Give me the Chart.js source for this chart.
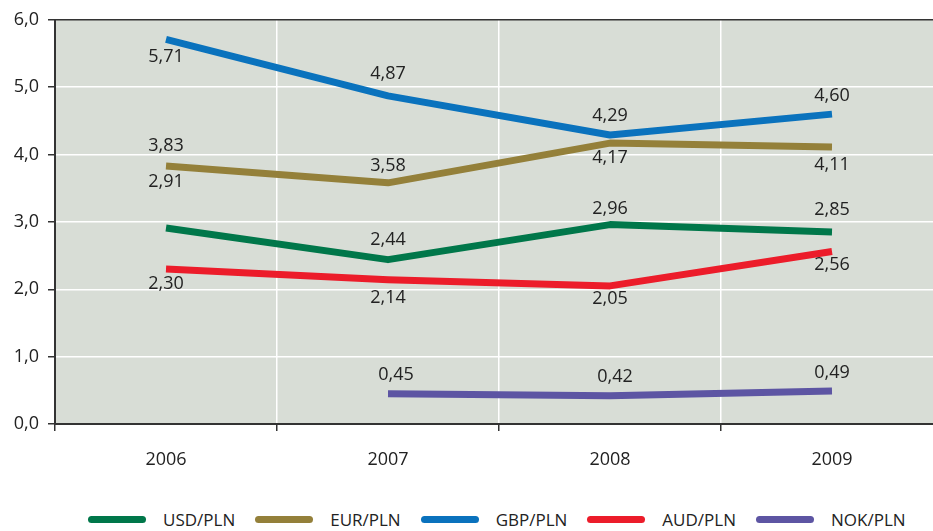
<!DOCTYPE html>
<html>
<head>
<meta charset="utf-8">
<script src="https://cdn.jsdelivr.net/npm/chart.js@4.4.1/dist/chart.umd.min.js"></script>
<style>
  body { margin: 0; background: #fff; font-family: "Open Sans", sans-serif; }
  #wrap { position: relative; width: 933px; height: 531px; overflow: hidden; }
  #chart { position: absolute; left: 0; top: 0; }
  #legend { position: absolute; left: 88px; top: 508px; display: flex; align-items: center; font-size: 17px; color: #222; white-space: nowrap; }
  #legend .sw { display: inline-block; width: 58px; height: 7px; border-radius: 4px; margin-right: 17px; }
  #legend .item { display: flex; align-items: center; margin-right: 20px; }
</style>
</head>
<body>
<div id="wrap">
  <canvas id="chart" width="943" height="480"></canvas>
  <div id="legend"></div>
</div>
<script>
// Dati
const years = ['2006', '2007', '2008', '2009'];
const usd = [2.91, 2.44, 2.96, 2.85];
const eur = [3.83, 3.58, 4.17, 4.11];
const gbp = [5.71, 4.87, 4.29, 4.60];
const aud = [2.30, 2.14, 2.05, 2.56];
const nok = [null, 0.45, 0.42, 0.49];
const yTicks = [0, 1, 2, 3, 4, 5, 6];

// posizione delle etichette rispetto al punto (px)
const labelDy = {
    'USD/PLN': [-46, -20, -16, -22],
    'EUR/PLN': [-20, -17, 15, 18],
    'GBP/PLN': [18, -22, -19, -18],
    'AUD/PLN': [15, 18, 13, 13],
    'NOK/PLN': [0, -19, -19, -18]
};
const labelDx = {
    'NOK/PLN': [0, 8, 5, 0]
};

const series = [
    { label: 'USD/PLN', data: usd, color: '#00774a' },
    { label: 'EUR/PLN', data: eur, color: '#94803a' },
    { label: 'GBP/PLN', data: gbp, color: '#0a72bd' },
    { label: 'AUD/PLN', data: aud, color: '#ec1c2a' },
    { label: 'NOK/PLN', data: nok, color: '#5d55a3' }
];

const fmt = v => v.toFixed(2).replace('.', ',');

const plotBg = {
    id: 'plotBg',
    beforeDraw(chart) {
        const a = chart.chartArea, c = chart.ctx;
        c.save();
        c.fillStyle = '#d8ddd6';
        c.fillRect(a.left, a.top, a.right - a.left, a.bottom - a.top);
        c.restore();
    }
};

const valueLabels = {
    id: 'valueLabels',
    afterDatasetsDraw(chart) {
        const c = chart.ctx;
        c.save();
        c.font = '18px "Open Sans"';
        c.fillStyle = '#222';
        c.textAlign = 'center';
        c.textBaseline = 'middle';
        chart.data.datasets.forEach((ds, i) => {
            const meta = chart.getDatasetMeta(i);
            ds.data.forEach((v, j) => {
                if (v === null) return;
                const p = meta.data[j];
                const dy = labelDy[ds.label][j];
                const dx = labelDx[ds.label] ? labelDx[ds.label][j] : 0;
                c.fillText(fmt(v), p.x + dx, p.y + dy);
            });
        });
        c.restore();
    }
};

const ctx = document.getElementById('chart').getContext('2d');
new Chart(ctx, {
    type: 'line',
    data: {
        labels: years,
        datasets: series.map(s => ({
            label: s.label,
            data: s.data,
            borderColor: s.color,
            backgroundColor: s.color,
            borderWidth: 7,
            borderCapStyle: 'butt',
            borderJoinStyle: 'round',
            pointRadius: 0,
            tension: 0,
            spanGaps: false
        }))
    },
    options: {
        responsive: false,
        animation: false,
        layout: { padding: { top: 18, right: 0, left: 0, bottom: 0 } },
        plugins: {
            legend: { display: false },
            tooltip: { enabled: false }
        },
        scales: {
            x: {
                offset: true,
                grid: {
                    offset: true,
                    color: '#ffffff',
                    lineWidth: 1.5,
                    tickColor: '#333',
                    tickLength: 7,
                    tickWidth: 1.5
                },
                border: { color: '#333', width: 2 },
                ticks: {
                    color: '#222',
                    font: { family: 'Open Sans', size: 18 },
                    padding: 18
                },
                afterFit(scale) { scale.height = 56; }
            },
            y: {
                min: 0,
                max: 6,
                afterBuildTicks(scale) { scale.ticks = yTicks.map(v => ({ value: v })); },
                grid: {
                    color: c => c.tick && c.tick.value === 6 ? '#333' : '#ffffff',
                    lineWidth: 1.5,
                    tickColor: '#333',
                    tickLength: 7,
                    tickWidth: 1.5
                },
                border: { color: '#333', width: 2 },
                ticks: {
                    color: '#222',
                    font: { family: 'Open Sans', size: 18 },
                    padding: 9,
                    callback: v => v.toFixed(1).replace('.', ',')
                },
                afterFit(scale) { scale.width = 55; }
            }
        }
    },
    plugins: [plotBg, valueLabels]
});

// Legenda
const legend = document.getElementById('legend');
series.forEach(s => {
    const item = document.createElement('span');
    item.className = 'item';
    const sw = document.createElement('span');
    sw.className = 'sw';
    sw.style.background = s.color;
    item.appendChild(sw);
    item.appendChild(document.createTextNode(s.label));
    legend.appendChild(item);
});
</script>
</body>
</html>
